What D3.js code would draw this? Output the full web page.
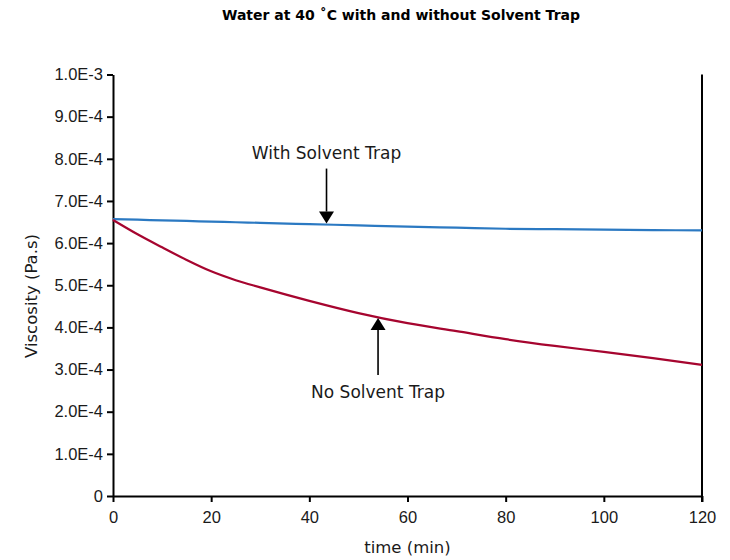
<!DOCTYPE html>
<html>
<head>
<meta charset="utf-8">
<script src="https://cdn.jsdelivr.net/npm/d3@7"></script>
<style>
  html, body { margin: 0; padding: 0; background: #fff; }
  svg { display: block; font-family: "DejaVu Sans", "Liberation Sans", sans-serif; }
  .axis text { fill: #1a1a1a; font-size: 16.5px; }
  .axis path, .axis line { stroke: #000; stroke-width: 2; }
</style>
</head>
<body>
<svg id="chart" width="730" height="560"></svg>
<script>
// time (min)
const times = [0, 5, 10, 15, 20, 25, 30, 40, 50, 60, 70, 80, 90, 100, 110, 120]
// viscosity in Pa.s
const withTrap = [6.57e-4, 6.555e-4, 6.54e-4, 6.525e-4, 6.51e-4, 6.495e-4, 6.48e-4, 6.45e-4, 6.42e-4, 6.39e-4, 6.365e-4, 6.34e-4, 6.33e-4, 6.32e-4, 6.31e-4, 6.30e-4]
const noTrap = [6.55e-4, 6.21e-4, 5.90e-4, 5.60e-4, 5.33e-4, 5.12e-4, 4.95e-4, 4.63e-4, 4.34e-4, 4.10e-4, 3.91e-4, 3.72e-4, 3.56e-4, 3.42e-4, 3.27e-4, 3.11e-4]

const xTicks = [0, 20, 40, 60, 80, 100, 120]
const yTicks = [0, 1e-4, 2e-4, 3e-4, 4e-4, 5e-4, 6e-4, 7e-4, 8e-4, 9e-4, 1e-3]
const yTickLabels = ['0', '1.0E-4', '2.0E-4', '3.0E-4', '4.0E-4', '5.0E-4', '6.0E-4', '7.0E-4', '8.0E-4', '9.0E-4', '1.0E-3']

// callouts: label, time where arrow points, which series
const callouts = [
  { label: 'With Solvent Trap', t: 43.5, series: withTrap, dir: 'down' },
  { label: 'No Solvent Trap', t: 54, series: noTrap, dir: 'up' }
]

const width = 730
const height = 560
const margin = { top: 74.5, right: 28, bottom: 64, left: 113 }
const innerWidth = width - margin.left - margin.right
const innerHeight = height - margin.top - margin.bottom

const svg = d3.select('#chart')

svg.append('text')
  .attr('x', 401)
  .attr('y', 20)
  .attr('text-anchor', 'middle')
  .attr('font-weight', 'bold')
  .attr('font-size', '14px')
  .attr('fill', '#000')
  .text('Water at 40 \u02DAC with and without Solvent Trap')

const x = d3.scaleLinear().domain([0, 120]).range([0, innerWidth])
const y = d3.scaleLinear().domain([0, 1e-3]).range([innerHeight, 0])

const root = svg.append('g')
  .attr('transform', `translate(${margin.left},${margin.top})`)

// right border line
root.append('line')
  .attr('x1', innerWidth).attr('x2', innerWidth)
  .attr('y1', 0).attr('y2', innerHeight + 6)
  .attr('stroke', '#000')
  .attr('stroke-width', 2)

root.append('g')
  .attr('class', 'axis')
  .attr('transform', `translate(0,${innerHeight})`)
  .call(d3.axisBottom(x).tickValues(xTicks).tickSize(6).tickPadding(9).tickSizeOuter(0))

root.append('g')
  .attr('class', 'axis')
  .call(d3.axisLeft(y).tickValues(yTicks).tickSize(6).tickPadding(4).tickSizeOuter(0)
    .tickFormat((d, i) => yTickLabels[i]))

const line = (vals) => d3.line()
  .x((d, i) => x(times[i]))
  .y((d) => y(d))
  .curve(d3.curveMonotoneX)(vals)

root.append('path')
  .attr('d', line(withTrap))
  .attr('fill', 'none')
  .attr('stroke', '#2b79c2')
  .attr('stroke-width', 2.2)

root.append('path')
  .attr('d', line(noTrap))
  .attr('fill', 'none')
  .attr('stroke', '#a6052f')
  .attr('stroke-width', 2.2)

// arrows and labels
callouts.forEach((c) => {
  const at = d3.scaleLinear().domain(times).range(c.series)
  const tx = x(c.t)
  const ty = y(at(c.t))
  const down = c.dir === 'down'
  const len = down ? 56 : 58
  const tail = down ? ty - len : ty + len
  const headH = 13
  const headW = 7.5
  const base = down ? ty - headH : ty + headH

  root.append('line')
    .attr('x1', tx).attr('x2', tx)
    .attr('y1', tail).attr('y2', base)
    .attr('stroke', '#000')
    .attr('stroke-width', 1.6)

  root.append('path')
    .attr('d', `M${tx},${ty - (down ? 1 : -1)}L${tx - headW},${base}L${tx + headW},${base}Z`)
    .attr('fill', '#000')

  root.append('text')
    .attr('x', tx)
    .attr('y', down ? tail - 10 : tail + 23)
    .attr('text-anchor', 'middle')
    .attr('font-size', '17px')
    .attr('fill', '#1a1a1a')
    .text(c.label)
})

svg.append('text')
  .attr('x', margin.left + innerWidth / 2)
  .attr('y', 553)
  .attr('text-anchor', 'middle')
  .attr('font-size', '16.5px')
  .attr('fill', '#1a1a1a')
  .text('time (min)')

svg.append('text')
  .attr('transform', 'translate(37,296) rotate(-90)')
  .attr('text-anchor', 'middle')
  .attr('font-size', '16.5px')
  .attr('fill', '#1a1a1a')
  .text('Viscosity (Pa.s)')
</script>
</body>
</html>
